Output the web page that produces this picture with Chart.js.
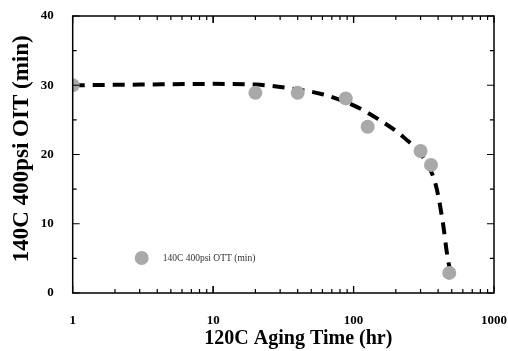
<!DOCTYPE html>
<html><head><meta charset="utf-8">
<script src="https://cdn.jsdelivr.net/npm/chart.js@4/dist/chart.umd.min.js"></script>
<style>html,body{margin:0;padding:0;background:#fff;}#wrap{width:508px;height:351px;}</style>
</head><body><div id="wrap"><canvas id="c" width="508" height="351"></canvas></div>
<script>
const agingHours = [1, 20, 40, 88, 126, 300, 356, 480];
const oitMinutes = [30, 28.9, 28.9, 28.1, 24.0, 20.5, 18.5, 2.9];
const fitHours = [1, 3, 10, 20, 40, 60, 100, 150, 230, 320, 385, 430, 470, 500];
const fitMinutes = [30, 30.1, 30.2, 30.1, 29.4, 28.7, 27.1, 25.1, 22.4, 19.3, 15.6, 10.5, 4.8, 2.5];
const xTickLabels = [1, 10, 100, 1000];
const yTicks = [0, 10, 20, 30, 40];
const seriesLabel = '140C 400psi OTT (min)';

const serif = '"Liberation Serif", "DejaVu Serif", serif';

const framePlugin = {
  id: 'frame',
  afterDatasetsDraw(chart) {
    const {ctx, chartArea: a, scales: {x, y}} = chart;
    ctx.save();
    ctx.strokeStyle = '#000';
    ctx.lineWidth = 1.5;
    ctx.strokeRect(a.left, a.top, a.right - a.left, a.bottom - a.top);
    ctx.lineWidth = 1.2;
    for (let d = 1; d <= 100; d *= 10) {
      for (let m = 1; m <= 10; m++) {
        const v = d * m;
        const px = x.getPixelForValue(v);
        const len = (m === 1 || m === 10) ? 7 : 4;
        ctx.beginPath();
        ctx.moveTo(px, a.bottom); ctx.lineTo(px, a.bottom - len);
        ctx.moveTo(px, a.top); ctx.lineTo(px, a.top + len);
        ctx.stroke();
      }
    }
    for (let v = 0; v <= 40; v += 5) {
      const py = y.getPixelForValue(v);
      const len = (v % 10 === 0) ? 7 : 4;
      ctx.beginPath();
      ctx.moveTo(a.left, py); ctx.lineTo(a.left + len, py);
      ctx.moveTo(a.right, py); ctx.lineTo(a.right - len, py);
      ctx.stroke();
    }
    const lx = a.left + 69, ly = a.top + 242;
    ctx.fillStyle = '#a9a9a9';
    ctx.beginPath(); ctx.arc(lx, ly, 7, 0, Math.PI * 2); ctx.fill();
    ctx.fillStyle = '#333';
    ctx.font = '9.5px ' + serif;
    ctx.textBaseline = 'middle';
    ctx.fillText(seriesLabel, lx + 21, ly);
    ctx.restore();
  }
};

new Chart(document.getElementById('c'), {
  type: 'scatter',
  data: {
    datasets: [
      {
        label: 'fit',
        data: fitHours.map((h, i) => ({x: h, y: fitMinutes[i]})),
        showLine: true,
        borderColor: '#000',
        borderWidth: 4,
        borderDash: [12, 8],
        pointRadius: 0,
        tension: 0.4,
        cubicInterpolationMode: 'monotone',
        order: 2
      },
      {
        label: seriesLabel,
        data: agingHours.map((h, i) => ({x: h, y: oitMinutes[i]})),
        backgroundColor: '#a9a9a9',
        borderWidth: 0,
        pointRadius: 7,
        order: 1
      }
    ]
  },
  options: {
    responsive: false,
    animation: false,
    devicePixelRatio: 1,
    layout: {padding: {left: 0, right: 14, top: 16, bottom: 0}},
    plugins: {legend: {display: false}, tooltip: {enabled: false}},
    scales: {
      x: {
        type: 'logarithmic',
        min: 1, max: 1000,
        grid: {display: false, drawTicks: false},
        border: {display: false},
        afterBuildTicks: s => { s.ticks = xTickLabels.map(v => ({value: v})); },
        afterFit: s => { s.height = 58; s.paddingLeft = 0; s.paddingRight = 0; },
        ticks: {
          autoSkip: false, maxRotation: 0, padding: 20,
          color: '#000',
          font: {family: serif, size: 13, weight: 'bold'},
          callback: v => String(v)
        },
        title: {
          display: true, text: '\u00a0\u00a0\u00a0\u00a0\u00a0\u00a0120C Aging Time (hr)', color: '#000',
          font: {family: serif, size: 20, weight: 'bold'},
          padding: {top: 0, bottom: 0}
        }
      },
      y: {
        min: 0, max: 40,
        grid: {display: false, drawTicks: false},
        border: {display: false},
        afterBuildTicks: s => { s.ticks = yTicks.map(v => ({value: v})); },
        afterFit: s => { s.width = 72.7; s.paddingTop = 0; s.paddingBottom = 0; },
        ticks: {
          padding: 19, color: '#000',
          font: {family: serif, size: 13, weight: 'bold'}
        },
        title: {
          display: true, text: '\u00a0\u00a0140C 400psi OIT (min)', color: '#000',
          font: {family: serif, size: 23, weight: 'bold'},
          padding: {top: 8, bottom: 0}
        }
      }
    }
  },
  plugins: [framePlugin]
});
</script></body></html>
